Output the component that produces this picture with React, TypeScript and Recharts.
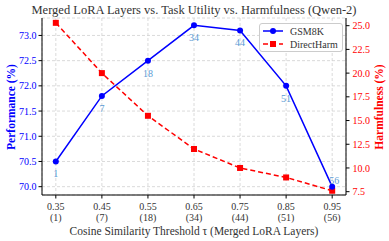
import React from 'react';
import { LineChart, Line, XAxis, YAxis, CartesianGrid, LabelList } from 'recharts';

const thresholds = [0.35, 0.45, 0.55, 0.65, 0.75, 0.85, 0.95];
const layers = [1, 7, 18, 34, 44, 51, 56];
const gsm8k = [70.5, 71.8, 72.5, 73.2, 73.1, 72.0, 70.0];
const directHarm = [25.3, 20.0, 15.5, 12.0, 10.0, 9.0, 7.6];
const leftTicks = [70.0, 70.5, 71.0, 71.5, 72.0, 72.5, 73.0];
const rightTicks = [7.5, 10.0, 12.5, 15.0, 17.5, 20.0, 22.5, 25.0];

const data = thresholds.map((t, i) => ({ t, layers: layers[i], gsm8k: gsm8k[i], harm: directHarm[i] }));

const FONT = '"Liberation Serif", serif';
const BLUE = '#0000ff';
const RED = '#ff0000';

const XTick = (props: any) => {
  const { x, y, payload } = props;
  const i = thresholds.indexOf(payload.value);
  return (
    <g>
      <text x={x} y={y + 9} textAnchor="middle" fontFamily={FONT} fontSize={10} fill="#333">{payload.value.toFixed(2)}</text>
      <text x={x} y={y + 20} textAnchor="middle" fontFamily={FONT} fontSize={10} fill="#333">({layers[i]})</text>
    </g>
  );
};

const Square = (props: any) => {
  const { cx, cy } = props;
  if (cx == null || cy == null) return null;
  return <rect x={cx - 3} y={cy - 3} width={6} height={6} fill={RED} />;
};

const PointLabel = (props: any) => {
  const { x, y, value, index } = props;
  const last = index === layers.length - 1;
  return (
    <text x={last ? x + 2 : x} y={last ? y - 3 : y + 16} textAnchor="middle" fontFamily={FONT} fontSize={10} fill="#5b9bd5">{value}</text>
  );
};

export default function App() {
  return (
    <div style={{ position: 'absolute', left: 0, top: 0, width: 389, height: 241, background: '#fff' }}>
      <LineChart width={389} height={241} data={data} margin={{ top: 18, right: 0, left: 0, bottom: 0 }}>
        <CartesianGrid yAxisId="left" stroke="#d0d0d0" strokeDasharray="3 2" strokeWidth={0.8} />
        <XAxis dataKey="t" type="number" domain={[0.32, 0.98]} ticks={thresholds} tick={<XTick />} height={46}
          tickSize={3.5} tickLine={{ stroke: '#000' }} axisLine={{ stroke: '#000', strokeWidth: 1.2 }} interval={0}
          label={{ value: 'Cosine Similarity Threshold τ (Merged LoRA Layers)', position: 'insideBottom', offset: 6, fontFamily: FONT, fontSize: 11.5, fill: '#333' }} />
        <XAxis xAxisId="top" dataKey="t" type="number" domain={[0.32, 0.98]} orientation="top" height={0} tick={false} tickLine={false} axisLine={{ stroke: '#000', strokeWidth: 1 }} />
        <YAxis yAxisId="left" domain={[69.835, 73.346]} ticks={leftTicks} width={42} tickSize={3.5} tickMargin={2}
          tickFormatter={(v: number) => v.toFixed(1)} tick={{ fontFamily: FONT, fontSize: 10, fill: BLUE }}
          tickLine={{ stroke: '#000' }} axisLine={{ stroke: '#000', strokeWidth: 1 }} allowDataOverflow />
        <YAxis yAxisId="right" orientation="right" domain={[7.15, 25.81]} ticks={rightTicks} width={43} tickSize={3.5} tickMargin={3}
          tickFormatter={(v: number) => v.toFixed(1)} tick={{ fontFamily: FONT, fontSize: 10, fill: RED }}
          tickLine={{ stroke: '#000' }} axisLine={{ stroke: '#000', strokeWidth: 1 }} allowDataOverflow />
        <Line yAxisId="right" dataKey="harm" stroke={RED} strokeWidth={1.5} strokeDasharray="5 3" dot={<Square />} isAnimationActive={false} />
        <Line yAxisId="left" dataKey="gsm8k" stroke={BLUE} strokeWidth={1.5} dot={{ r: 3, fill: BLUE, stroke: BLUE, strokeWidth: 0 }} isAnimationActive={false}>
          <LabelList dataKey="layers" content={<PointLabel />} />
        </Line>
      </LineChart>
      <svg width={389} height={241} style={{ position: 'absolute', left: 0, top: 0, pointerEvents: 'none' }}>
        <text x={194} y={14} textAnchor="middle" fontFamily={FONT} fontSize={12.5} fill="#333">Merged LoRA Layers vs. Task Utility vs. Harmfulness (Qwen-2)</text>
        <text x={0} y={0} transform="translate(15,107) rotate(-90)" textAnchor="middle" fontFamily={FONT} fontSize={11.5} fontWeight="bold" fill={BLUE}>Performance (%)</text>
        <text x={0} y={0} transform="translate(383,107) rotate(-90)" textAnchor="middle" fontFamily={FONT} fontSize={11.5} fontWeight="bold" fill={RED}>Harmfulness (%)</text>
      </svg>
      <div style={{ position: 'absolute', left: 259, top: 23, width: 84, height: 29, background: '#fff', border: '1px solid #ccc', borderRadius: 3, boxSizing: 'border-box' }}>
        <svg width={84} height={29} style={{ position: 'absolute', left: -1, top: -1 }}>
          <line x1={4} y1={8} x2={24} y2={8} stroke={BLUE} strokeWidth={1.5} />
          <circle cx={14} cy={8} r={3} fill={BLUE} />
          <text x={31} y={11.5} fontFamily={FONT} fontSize={10} fill="#333">GSM8K</text>
          <line x1={4} y1={21} x2={24} y2={21} stroke={RED} strokeWidth={1.5} strokeDasharray="5 3" />
          <rect x={11} y={18} width={6} height={6} fill={RED} />
          <text x={31} y={24.5} fontFamily={FONT} fontSize={10} fill="#333">DirectHarm</text>
        </svg>
      </div>
    </div>
  );
}
